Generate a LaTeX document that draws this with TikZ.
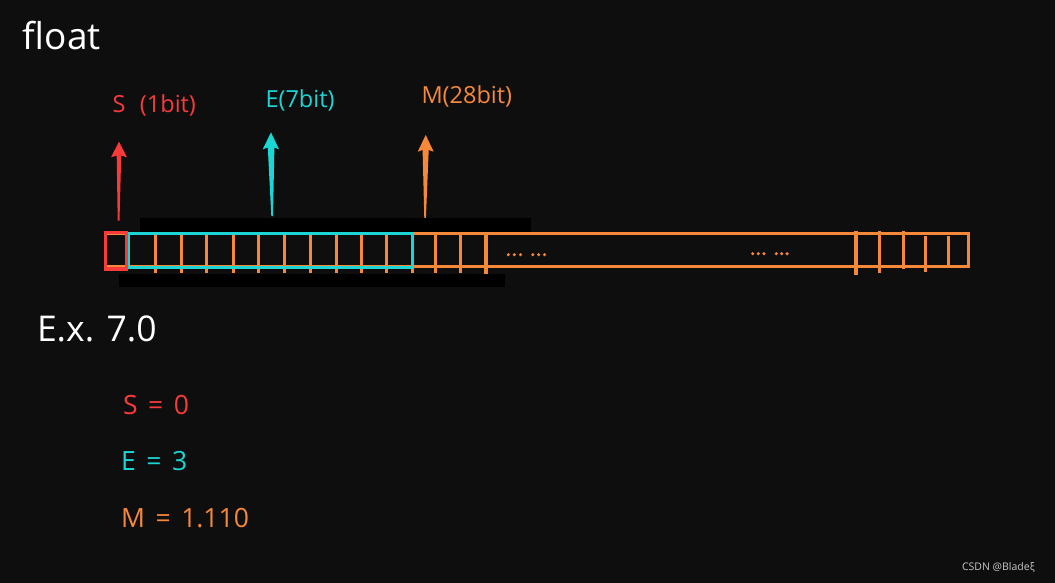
\documentclass[tikz,border=0pt]{standalone}
\usepackage{fontspec}
\setmainfont{Open Sans}
\definecolor{bg}{RGB}{14,14,14}
\definecolor{sred}{RGB}{249,58,58}
\definecolor{ecyan}{RGB}{28,214,214}
\definecolor{morange}{RGB}{246,136,58}
\definecolor{wm}{RGB}{200,200,200}
\begin{document}
\begin{tikzpicture}[x=1pt,y=-1pt,
  txt/.style={inner sep=0pt,outer sep=0pt,anchor=base west},
  lbl/.style={txt,font=\fontsize{23.5}{28}\selectfont},
  val/.style={txt,font=\fontsize{26.5}{30}\selectfont},
  div/.style={draw=morange,line width=3pt},
  thickdiv/.style={draw=morange,line width=4.2pt},
  dotm/.style={fill=morange},
  bar/.style={fill=black}]
\useasboundingbox (0,0) rectangle (1055,583);
\fill[bg] (0,0) rectangle (1055,583);
% title
\node[txt,text=white,font=\fontsize{37}{40}\selectfont] (title) at (23,49.3) {float};
% labels
\node[lbl,text=sred] (ls) at (112.5,112.3) {S\hspace{0.62em}(1bit)};
\node[lbl,text=ecyan] (le) at (265.5,107.3) {E(7bit)};
\node[lbl,text=morange] (lm) at (421.5,103.3) {M(28bit)};
% arrows
\fill[sred] (119,141.7) -- (127,157.3) -- (121.2,155.5) -- (119.5,220.7) -- (117.7,220.7) -- (116.7,155.5) -- (111,157.3) -- cycle;
\fill[ecyan] (271,132.3) -- (279,149.3) -- (274.4,147.5) -- (273,216) -- (271.3,216) -- (267.8,147.5) -- (262.7,149.3) -- cycle;
\fill[morange] (425.7,135) -- (433.7,151.7) -- (428.7,150) -- (425.9,218.3) -- (424.3,218.3) -- (422.6,150) -- (417.7,151.7) -- cycle;
% black bars
\fill[bar] (140,218) rectangle (530.5,232);
\fill[bar] (119,274) rectangle (505,287);
% main orange register
\draw[morange,line width=3pt] (105,233.4) rectangle (968.3,266.5);
\foreach \x in {155,181,206.7,233.3,258.3,284.3,310.7,336,361.7,386,412.7,435,460}
  \draw[div] (\x,233) -- (\x,273);
\draw[thickdiv] (486,233) -- (486,274);
\draw[thickdiv] (856,231) -- (856,275);
\draw[div] (879.3,231) -- (879.3,273);
\draw[div] (903.3,231) -- (903.3,269);
\draw[div] (925.3,236) -- (925.3,272);
\draw[div] (948.3,236) -- (948.3,266);
% dots
\foreach \x in {508.3,514.3,520.5,532.8,538.7,544.5}
  \fill[dotm] (\x,254.7) circle (1.7);
\foreach \x in {752.7,758.3,763.9,776.3,781.7,787.1}
  \fill[dotm] (\x,253.7) circle (1.7);
% cyan and red boxes
\draw[ecyan,line width=3.3pt] (128,233.2) rectangle (412.5,267.5);
\draw[sred,line width=3.5pt] (105.5,232.5) rectangle (126.5,269.2);
% example
\node[txt,text=white,font=\fontsize{35.5}{42}\selectfont] (ex) at (37,341.7) {E.x. 7.0};
\node[val,text=sred] (vs) at (123,414.3) {S\hspace{0.4em}=\hspace{0.4em}0};
\node[val,text=ecyan] (ve) at (121,470.7) {E\hspace{0.4em}=\hspace{0.4em}3};
\node[val,text=morange] (vm) at (121,527.7) {M\hspace{0.4em}=\hspace{0.4em}1.110};
% watermark
\node[txt,text=wm,font=\fontsize{10.5}{12}\selectfont] (wmk) at (962,570) {CSDN @Bladeξ};
\end{tikzpicture}
\end{document}
